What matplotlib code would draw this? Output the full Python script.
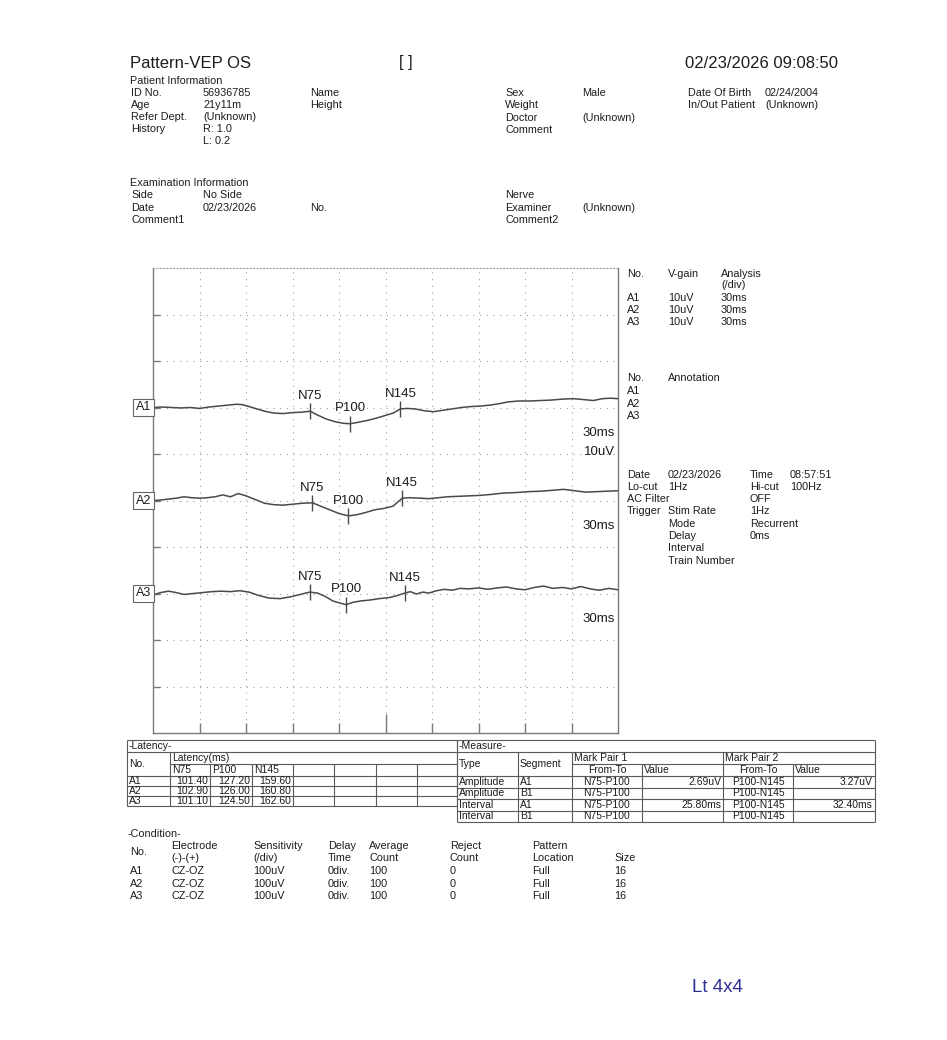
import matplotlib
matplotlib.use("Agg")
import matplotlib.pyplot as plt
import matplotlib.transforms as mtransforms
import numpy as np

plt.rcParams['font.family'] = ['Liberation Sans', 'DejaVu Sans']

# ---- waveform data (ms, uV deflection as drawn, up = positive) ----
ms_per_div = 30
uv_per_div = 10

a1_t = [0, 6, 12, 18, 24, 30, 36, 42, 48, 54, 58, 62, 67, 72, 78, 84, 90, 96, 101.4, 106,
        112, 118, 123, 127.2, 132, 138, 144, 150, 155, 159.6, 164, 169, 175, 181, 187, 193, 199, 205, 211, 217,
        223, 229, 236, 243, 250, 257, 264, 271, 278, 284, 290, 295, 300]
a1_uv = [0.0, 0.1, 0.0, -0.1, 0.0, -0.2, 0.1, 0.3, 0.5, 0.7, 0.6, 0.2, -0.3, -0.8, -1.2, -1.3, -1.1, -1.0, -0.8, -1.6,
         -2.5, -3.1, -3.4, -3.5, -3.2, -2.8, -2.3, -1.7, -1.2, -0.3, -0.2, -0.3, -0.7, -0.9, -0.6, -0.3, 0.0, 0.2, 0.3, 0.5,
         0.8, 1.2, 1.4, 1.4, 1.5, 1.6, 1.8, 1.9, 1.7, 1.5, 1.9, 2.0, 1.9]

a2_t = [0, 5, 10, 15, 20, 25, 30, 35, 40, 45, 50, 55, 60, 66, 72, 78, 84, 90, 96, 102.9,
        108, 114, 120, 126, 131, 137, 143, 149, 155, 160.8, 166, 172, 178, 184, 190, 197, 204, 211, 218, 226,
        234, 242, 250, 258, 265, 272, 279, 286, 293, 300]
a2_uv = [0.0, 0.1, 0.3, 0.5, 0.8, 0.6, 0.5, 0.6, 0.8, 1.2, 0.8, 1.5, 1.0, 0.2, -0.6, -0.9, -1.0, -0.8, -0.6, -0.5,
         -1.2, -2.0, -2.8, -3.3, -3.1, -2.6, -2.0, -1.7, -1.2, 0.5, 0.6, 0.5, 0.4, 0.6, 0.8, 0.9, 1.0, 1.1, 1.3, 1.6,
         1.7, 1.9, 2.0, 2.2, 2.4, 2.1, 1.8, 1.9, 2.0, 2.1]

a3_t = [0, 5, 10, 15, 20, 26, 32, 38, 44, 50, 56, 62, 68, 75, 82, 89, 95, 101.1, 106, 111,
        116, 120, 124.5, 129, 134, 140, 146, 152, 157, 162.6, 166, 170, 174, 178, 183, 188, 193, 198, 204, 210,
        216, 222, 228, 234, 240, 246, 252, 258, 264, 270, 276, 282, 288, 294, 300]
a3_uv = [-0.3, 0.2, 0.5, 0.2, -0.2, 0.0, 0.2, 0.4, 0.5, 0.4, 0.6, 0.3, -0.4, -1.0, -1.1, -0.7, -0.2, 0.3, 0.1, -0.6,
         -1.6, -2.0, -2.4, -1.9, -1.6, -1.4, -1.1, -0.9, -0.5, 0.1, 0.4, -0.1, 0.3, 0.1, 0.6, 0.9, 0.7, 1.1, 1.0, 1.2,
         0.9, 1.2, 1.4, 1.0, 0.8, 1.3, 1.6, 1.1, 1.3, 1.0, 1.5, 1.0, 0.7, 1.1, 0.8]

channel_names = ["A1", "A2", "A3"]
peak_names = ["N75", "P100", "N145"]
a1_lat = [101.40, 127.20, 159.60]
a2_lat = [102.90, 126.00, 160.80]
a3_lat = [101.10, 124.50, 162.60]

# ---- tables ----
measure_rows = [
    ["Amplitude", "A1", "N75-P100", "2.69uV", "P100-N145", "3.27uV"],
    ["Amplitude", "B1", "N75-P100", "", "P100-N145", ""],
    ["Interval", "A1", "N75-P100", "25.80ms", "P100-N145", "32.40ms"],
    ["Interval", "B1", "N75-P100", "", "P100-N145", ""],
]
cond_electrode = ["CZ-OZ", "CZ-OZ", "CZ-OZ"]
cond_sens = ["100uV", "100uV", "100uV"]
cond_delay = ["0div.", "0div.", "0div."]
cond_avg = ["100", "100", "100"]
cond_reject = ["0", "0", "0"]
cond_location = ["Full", "Full", "Full"]
cond_size = ["16", "16", "16"]

INK = '#1c1c1c'
FRAME = '#7a7a7a'
GRID = '#a0a0a0'
TRACE = '#4a4a4a'
LINE = '#5a5a5a'
FS = 7.8

fig = plt.figure(figsize=(9.47, 10.40), dpi=100)
fig.patch.set_facecolor('white')

page = fig.add_axes([0, 0, 1, 1])
page.set_xlim(0, 947)
page.set_ylim(1040, 0)
page.axis('off')


def txt(x, y, s, size=FS, ha='left', color=INK, **kw):
    page.text(x, y, s, fontsize=size, ha=ha, va='center', color=color, **kw)


# ---- header ----
txt(130, 64, "Pattern-VEP OS", 12)
txt(399, 63, "[ ]", 12)
txt(685, 64, "02/23/2026 09:08:50", 12)

txt(130, 81, "Patient Information")
for y, lab, val in [(93, "ID No.", "56936785"), (105, "Age", "21y11m"),
                    (117, "Refer Dept.", "(Unknown)"), (129, "History", "R: 1.0")]:
    txt(131, y, lab)
    txt(203, y, val)
txt(203, 141, "L: 0.2")
txt(310, 93, "Name")
txt(310, 105, "Height")
for y, lab in [(93, "Sex"), (105, "Weight"), (118, "Doctor"), (130, "Comment")]:
    txt(505, y, lab)
txt(582, 93, "Male")
txt(582, 118, "(Unknown)")
txt(688, 93, "Date Of Birth")
txt(688, 105, "In/Out Patient")
txt(765, 93, "02/24/2004")
txt(765, 105, "(Unknown)")

txt(130, 183, "Examination Information")
txt(131, 195, "Side")
txt(203, 195, "No Side")
txt(131, 208, "Date")
txt(203, 208, "02/23/2026")
txt(310, 208, "No.")
txt(131, 220, "Comment1")
txt(505, 195, "Nerve")
txt(505, 208, "Examiner")
txt(582, 208, "(Unknown)")
txt(505, 220, "Comment2")

# ---- side panel next to the traces ----
txt(627, 274, "No.")
txt(668, 274, "V-gain")
txt(721, 274, "Analysis")
txt(721, 285, "(/div)")
for y, name in zip([298, 310, 322], channel_names):
    txt(627, y, name)
    txt(668, y, "10uV")
    txt(721, y, "30ms")
txt(627, 378, "No.")
txt(668, 378, "Annotation")
for y, name in zip([391, 404, 416], channel_names):
    txt(627, y, name)

txt(627, 475, "Date")
txt(668, 475, "02/23/2026")
txt(750, 475, "Time")
txt(790, 475, "08:57:51")
txt(627, 487, "Lo-cut")
txt(668, 487, "1Hz")
txt(750, 487, "Hi-cut")
txt(790, 487, "100Hz")
txt(627, 499, "AC Filter")
txt(750, 499, "OFF")
txt(627, 511, "Trigger")
txt(668, 511, "Stim Rate")
txt(750, 511, "1Hz")
txt(668, 524, "Mode")
txt(750, 524, "Recurrent")
txt(668, 536, "Delay")
txt(750, 536, "0ms")
txt(668, 548, "Interval")
txt(668, 561, "Train Number")

# ---- waveform panel ----
ax = fig.add_axes([153 / 947, 1 - 733 / 1040, 465 / 947, 465 / 1040])
ax.set_xlim(0, 10 * ms_per_div)
ax.set_ylim(-10 * uv_per_div, 0)
ax.set_facecolor('white')
for k in range(1, 10):
    ax.axvline(k * ms_per_div, color=GRID, lw=0.8, ls=(0, (1, 5)), zorder=0)
    ax.axhline(-k * uv_per_div, color=GRID, lw=0.8, ls=(0, (1, 5)), zorder=0)
for side in ['left', 'right', 'bottom']:
    ax.spines[side].set_color(FRAME)
    ax.spines[side].set_linewidth(1.0)
ax.spines['top'].set_color(GRID)
ax.spines['top'].set_linestyle((0, (1, 2)))
ax.set_xticks([5 * ms_per_div])
ax.set_xticks(np.arange(1, 10) * ms_per_div, minor=True)
ax.set_yticks(-np.arange(1, 10) * uv_per_div)
ax.tick_params(axis='x', which='major', direction='in', length=14, width=1, color=FRAME, labelbottom=False)
ax.tick_params(axis='x', which='minor', direction='in', length=7, width=1, color=FRAME)
ax.tick_params(axis='y', direction='in', length=5, width=1, color=FRAME, labelleft=False)

trans = mtransforms.blended_transform_factory(ax.transAxes, ax.transData)
series = [(a1_t, a1_uv, a1_lat), (a2_t, a2_uv, a2_lat), (a3_t, a3_uv, a3_lat)]
for i, (name, (t, uv, lat)) in enumerate(zip(channel_names, series)):
    base = -(3 + 2 * i) * uv_per_div
    y = base + np.asarray(uv)
    ax.plot(t, y, color=TRACE, lw=1.1, zorder=3)
    ly = base + np.interp(lat, t, uv)
    ax.plot(lat, ly, ls='none', marker='|', ms=11, mew=1.0, color=TRACE, zorder=4)
    for px, py, pn in zip(lat, ly, peak_names):
        ax.annotate(pn, (px, py), xytext=(0, 11), textcoords='offset points',
                    ha='center', va='center', fontsize=9.5, color=INK, zorder=5)
    ax.text(-0.004, base, name, transform=trans, ha='right', va='center', fontsize=9, color=INK,
            bbox=dict(boxstyle='square,pad=0.2', fc='white', ec='#666666', lw=0.8))
    ax.text(0.993, base - 5.4, "30ms", transform=trans, ha='right', va='center', fontsize=9.5, color=INK)
    if i == 0:
        ax.text(0.993, base - 9.6, "10uV", transform=trans, ha='right', va='center', fontsize=9.5, color=INK)


# ---- tables ----
def hline(y, x0, x1):
    page.plot([x0, x1], [y, y], color=LINE, lw=0.8, solid_capstyle='butt')


def vline(x, y0, y1):
    page.plot([x, x], [y0, y1], color=LINE, lw=0.8, solid_capstyle='butt')


TS = 7.5

# latency
lx = [127, 170, 210, 252, 293, 334, 376, 417, 457]
ly_ = [740, 752, 764, 776, 786, 796, 806]
hline(ly_[0], lx[0], lx[-1])
hline(ly_[1], lx[0], lx[-1])
hline(ly_[2], lx[1], lx[-1])
for yy in ly_[3:]:
    hline(yy, lx[0], lx[-1])
vline(lx[0], ly_[0], ly_[-1])
vline(lx[-1], ly_[0], ly_[-1])
vline(lx[1], ly_[1], ly_[-1])
for xx in lx[2:-1]:
    vline(xx, ly_[2], ly_[-1])
txt(129, 746, "-Latency-", TS)
txt(129, 764, "No.", TS)
txt(172, 758, "Latency(ms)", TS)
for j, pn in enumerate(peak_names):
    txt(lx[j + 1] + 2, 770, pn, TS)
for r, (name, vals) in enumerate(zip(channel_names, [a1_lat, a2_lat, a3_lat])):
    yc = (ly_[3 + r] + ly_[4 + r]) / 2
    txt(129, yc, name, TS)
    for j, v in enumerate(vals):
        txt(lx[j + 2] - 2, yc, f"{v:.2f}", TS, ha='right')

# measure
mx = [457, 518, 572, 642, 723, 793, 875]
my = [740, 752, 764, 776, 787.5, 799, 810.5, 822]
hline(my[0], mx[0], mx[-1])
hline(my[1], mx[0], mx[-1])
hline(my[2], mx[2], mx[-1])
for yy in my[3:]:
    hline(yy, mx[0], mx[-1])
vline(mx[0], my[0], my[-1])
vline(mx[-1], my[0], my[-1])
for xx in (mx[1], mx[2], mx[4]):
    vline(xx, my[1], my[-1])
for xx in (mx[3], mx[5]):
    vline(xx, my[2], my[-1])
txt(459, 746, "-Measure-", TS)
txt(459, 764, "Type", TS)
txt(520, 764, "Segment", TS)
txt(574, 758, "Mark Pair 1", TS)
txt(725, 758, "Mark Pair 2", TS)
txt((mx[2] + mx[3]) / 2, 770, "From-To", TS, ha='center')
txt(644, 770, "Value", TS)
txt((mx[4] + mx[5]) / 2, 770, "From-To", TS, ha='center')
txt(795, 770, "Value", TS)
for r, row in enumerate(measure_rows):
    yc = (my[3 + r] + my[4 + r]) / 2
    txt(459, yc, row[0], TS)
    txt(520, yc, row[1], TS)
    txt((mx[2] + mx[3]) / 2, yc, row[2], TS, ha='center')
    txt(mx[4] - 2, yc, row[3], TS, ha='right')
    txt((mx[4] + mx[5]) / 2, yc, row[4], TS, ha='center')
    txt(mx[6] - 2, yc, row[5], TS, ha='right')

# ---- condition ----
txt(128, 834, "-Condition-")
txt(130, 852, "No.")
cols = [171, 253, 328, 369, 450, 532, 614]
head1 = ["Electrode", "Sensitivity", "Delay", "Average", "Reject", "Pattern", ""]
head2 = ["(-)-(+)", "(/div)", "Time", "Count", "Count", "Location", "Size"]
for x, h1, h2 in zip(cols, head1, head2):
    txt(x, 846, h1)
    txt(x, 858, h2)
cond_cols = [cond_electrode, cond_sens, cond_delay, cond_avg, cond_reject, cond_location, cond_size]
for r, (name, y) in enumerate(zip(channel_names, [871, 884, 896])):
    txt(130, y, name)
    for x, col in zip(cols, cond_cols):
        txt(x, y, col[r])

txt(692, 988, "Lt 4x4", 13.5, color='#2e3192')

fig.savefig("out.png", dpi=100, facecolor='white')
